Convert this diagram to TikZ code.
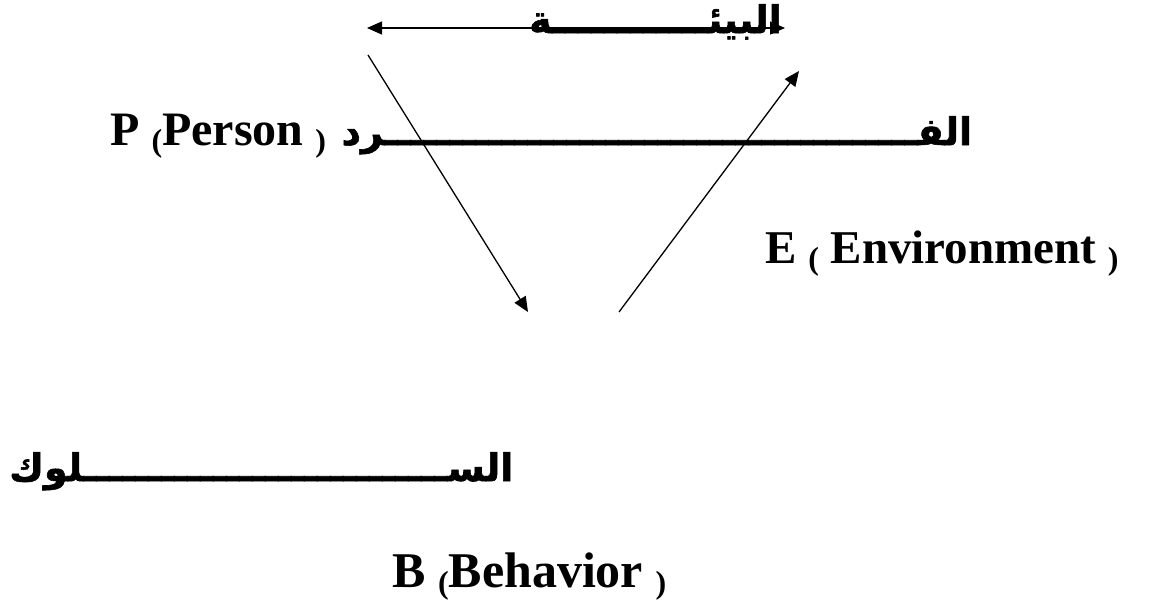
\documentclass[tikz,border=0pt]{standalone}
\usepackage{fontspec}
\setmainfont{Liberation Serif}
\newfontfamily\arabicfont[Script=Arabic, BoldFeatures={FakeBold=1.5}]{DejaVu Sans}
\TeXXeTstate=1
\usetikzlibrary{arrows.meta}
\ExplSyntaxOn
\cs_new:Npn \tatweel #1 { \prg_replicate:nn {#1} {ـ} }
\ExplSyntaxOff
\newcommand{\smpar}[1]{\raisebox{-6pt}{\fontsize{32}{32}\selectfont #1}}

\begin{document}
\begin{tikzpicture}[x=1pt, y=-1pt,
  arab/.style={inner sep=0pt, font=\arabicfont\bfseries\fontsize{38}{42}\selectfont},
  latin/.style={inner sep=0pt, font=\bfseries\fontsize{48}{52}\selectfont},
  conn/.style={line width=1.3pt, -{Triangle[length=15pt, width=13pt]}},
]
\useasboundingbox (0,0) rectangle (1149,603);

\coordinate (envL) at (367,28);
\coordinate (envR) at (785,28);
\coordinate (dnA) at (368,55);
\coordinate (dnB) at (528,312);
\coordinate (upA) at (619,312);
\coordinate (upB) at (799,71);

\draw[line width=1.3pt, {Triangle[length=15pt, width=13pt]}-{Triangle[length=15pt, width=13pt]}] (envL) -- (envR);
\draw[conn] (dnA) -- (dnB);
\draw[conn] (upA) -- (upB);

\node[arab, anchor=base east] (bia) at (782,33) {\beginR البيئ\tatweel{12}ة\endR};
\node[arab, anchor=base east] (fard) at (972,145) {\beginR الف\tatweel{41}رد\endR};
\node[latin, anchor=base west] (person) at (110,145) {P \smpar{(}Person \smpar{)}};
\node[latin, anchor=base west, font=\bfseries\fontsize{47}{50}\selectfont] (env) at (765,263) {E \smpar{(} Environment \smpar{)}};
\node[arab, anchor=base west] (suluk) at (9,481) {\beginR الس\tatweel{28}لوك\endR};
\node[latin, anchor=base west, font=\bfseries\fontsize{50}{54}\selectfont] (behav) at (392,587) {B \smpar{(}Behavior \smpar{)}};
\end{tikzpicture}
\end{document}
